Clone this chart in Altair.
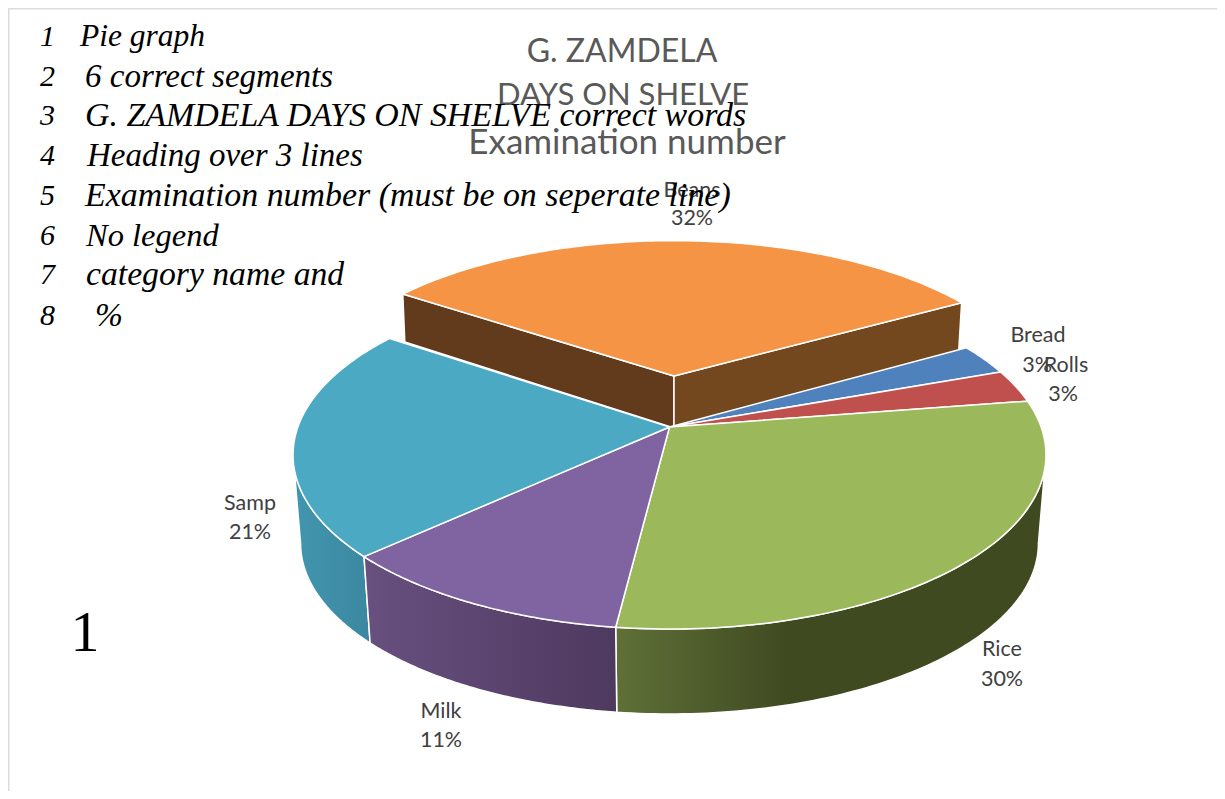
import numpy as np
import pandas as pd
import altair as alt

# ---- data ----
categories = ["Bread", "Rolls", "Rice", "Milk", "Samp", "Beans"]
shares = [2.86, 3.06, 29.44, 11.14, 21.56, 31.94]
shown_percent = ["3%", "3%", "30%", "11%", "21%", "32%"]
top_colors = ["#4F81BD", "#C0504D", "#9BB95A", "#8064A2", "#4BA9C4", "#F59445"]

title_lines = ["G. ZAMDELA", "DAYS ON SHELVE", "Examination number"]
note_numbers = ["1", "2", "3", "4", "5", "6", "7", "8"]
note_lines = [
    "Pie graph",
    "6 correct segments",
    "G. ZAMDELA DAYS ON SHELVE correct words",
    "Heading over 3 lines",
    "Examination number  (must be on seperate line)",
    "No legend",
    "category name and",
    "%",
]
big_mark = "1"

# ---- layout ----
W, H = 1209, 783
START = 59.7
K = 0.16
CX, CY, RX, RY = 669.5, 427.0, 371.6, 169.7
DEPTH = 89.0
BOTTOM_SCALE = 0.98
BEANS_APEX = (674.0, 376.0)
BEANS_RX, BEANS_RY = 360.0, 157.0
BEANS_DEPTH = 50.0
# angles at which the rim's silhouette turns (cos = -K)
TANGENT_R = float(np.degrees(np.arccos(-K)))
TANGENT_L = 360.0 - TANGENT_R

x_scale = alt.Scale(domain=[8, 8 + W], range=[0, W], nice=False, zero=False)
y_scale = alt.Scale(domain=[8, 8 + H], range=[0, H], nice=False, zero=False)


def project(deg, cx=CX, cy=CY, rx=RX, ry=RY):
    a = np.radians(np.asarray(deg, dtype=float))
    u, v = np.sin(a), np.cos(a)
    w = 1 + K * v
    return cx + rx * u / w, cy - ry * v / w


def poly(xs, ys, fill, stroke="white", sw=1.5):
    xs, ys = list(xs), list(ys)
    xs.append(xs[0])
    ys.append(ys[0])
    df = pd.DataFrame({"x": xs, "y": ys, "i": range(len(xs))})
    return (
        alt.Chart(df)
        .mark_line(fill=fill, stroke=stroke, strokeWidth=sw, interpolate="linear", strokeJoin="round")
        .encode(
            x=alt.X("x:Q", scale=x_scale, axis=None),
            y=alt.Y("y:Q", scale=y_scale, axis=None),
            order="i:Q",
        )
    )


def grad(stops):
    return alt.Gradient(
        gradient="linear",
        x1=0, x2=1, y1=0, y2=0,
        stops=[alt.GradientStop(offset=o, color=c) for o, c in stops],
    )


def text_layer(rows, size, color, font, style="normal", align="center"):
    df = pd.DataFrame(rows, columns=["x", "y", "t"])
    return (
        alt.Chart(df)
        .mark_text(fontSize=size, color=color, font=font, fontStyle=style, align=align, baseline="middle")
        .encode(
            x=alt.X("x:Q", scale=x_scale, axis=None),
            y=alt.Y("y:Q", scale=y_scale, axis=None),
            text="t:N",
        )
    )


# slice angles from the values
edges = START + np.cumsum([0.0] + shares) * 360.0 / sum(shares)
spans = {c: (edges[i], edges[i + 1]) for i, c in enumerate(categories)}

layers = []

# frame of the page
frame = pd.DataFrame({"x": [8.7, 8.7, 1217], "y": [791, 8.7, 8.7], "i": [0, 1, 2]})
layers.append(
    alt.Chart(frame)
    .mark_line(stroke="#dcdcdc", strokeWidth=1.6)
    .encode(
        x=alt.X("x:Q", scale=x_scale, axis=None),
        y=alt.Y("y:Q", scale=y_scale, axis=None),
        order="i:Q",
    )
)

# outer walls, clipped to the visible part of the rim
wall_fills = {
    "Rice": grad([(0, "#5F7037"), (0.4, "#3F4A21"), (1, "#3F4A21")]),
    "Milk": grad([(0, "#68507F"), (1, "#4E395F")]),
    "Samp": grad([(0, "#4296AF"), (1, "#3C87A0")]),
}
for c in ["Samp", "Rice", "Milk"]:
    a, b = spans[c]
    a, b = max(a, TANGENT_R), min(b, TANGENT_L)
    t = np.linspace(a, b, 90)
    tx, ty = project(t)
    bx, by = project(t[::-1], CX, CY + DEPTH, RX * BOTTOM_SCALE, RY * BOTTOM_SCALE)
    layers.append(poly(np.r_[tx, bx], np.r_[ty, by], wall_fills[c]))

# exploded Beans slice: cut walls and top
a, b = spans["Beans"]
ax, ay = BEANS_APEX
lx, ly = project(a, ax, ay, BEANS_RX, BEANS_RY)
rx_, ry_ = project(b, ax, ay, BEANS_RX, BEANS_RY)
layers.append(poly([lx, ax, ax, lx + 2], [ly, ay, ay + BEANS_DEPTH + 2, ly + BEANS_DEPTH - 2], "#623A1C"))
layers.append(poly([ax, rx_, rx_ - 3, ax], [ay, ry_, ry_ + BEANS_DEPTH, ay + BEANS_DEPTH + 2], "#73481F"))
t = np.linspace(a, b, 120)
tx, ty = project(t, ax, ay, BEANS_RX, BEANS_RY)
layers.append(poly(np.r_[ax, tx], np.r_[ay, ty], top_colors[5]))

# top faces
for i, c in enumerate(categories[:5]):
    a, b = spans[c]
    t = np.linspace(a, b, 90)
    tx, ty = project(t)
    layers.append(poly(np.r_[CX, tx], np.r_[CY, ty], top_colors[i]))

# chart title
layers.append(text_layer([(622, 52, title_lines[0])], 32, "#595959", "Lato"))
layers.append(text_layer([(623, 96, title_lines[1])], 31, "#595959", "Lato"))
layers.append(text_layer([(627, 143, title_lines[2])], 35, "#595959", "Lato"))

# data labels
label_pos = {
    "Bread": (1038, 336, 1037, 366),
    "Rolls": (1066, 366, 1063, 395),
    "Rice": (1002, 650, 1002, 680),
    "Milk": (441, 712, 441, 741),
    "Samp": (250, 504, 250, 533),
    "Beans": (692, 191, 692, 219),
}
rows = []
for c, p in zip(categories, shown_percent):
    x1, y1, x2, y2 = label_pos[c]
    rows += [(x1, y1, c), (x2, y2, p)]
layers.append(text_layer(rows, 21.5, "#404040", "Lato"))

# marking notes
note_y = [37, 77, 116, 156, 196, 236, 275, 316]
note_x = [80, 85, 85, 87, 85, 86, 86, 95]
note_size = [31.5, 33, 33.9, 33, 33.9, 32.5, 33.7, 33.5]
note_font = "Liberation Serif"
layers.append(
    text_layer([(40, y, n) for y, n in zip(note_y, note_numbers)], 30, "#000000", note_font, "italic", "left")
)
note_df = pd.DataFrame({"x": note_x, "y": note_y, "t": note_lines, "s": note_size})
layers.append(
    alt.Chart(note_df)
    .mark_text(color="#000000", font=note_font, fontStyle="italic", align="left", baseline="middle")
    .encode(
        x=alt.X("x:Q", scale=x_scale, axis=None),
        y=alt.Y("y:Q", scale=y_scale, axis=None),
        text="t:N",
        size=alt.Size("s:Q", scale=None, legend=None),
    )
)
layers.append(text_layer([(85, 634, big_mark)], 58, "#000000", note_font))

chart = (
    alt.layer(*layers)
    .properties(width=W, height=H, padding=0, autosize=alt.AutoSizeParams(type="none"))
    .configure_view(stroke=None)
)

chart.save("out.html", embed_options={"renderer": "svg", "actions": False})
